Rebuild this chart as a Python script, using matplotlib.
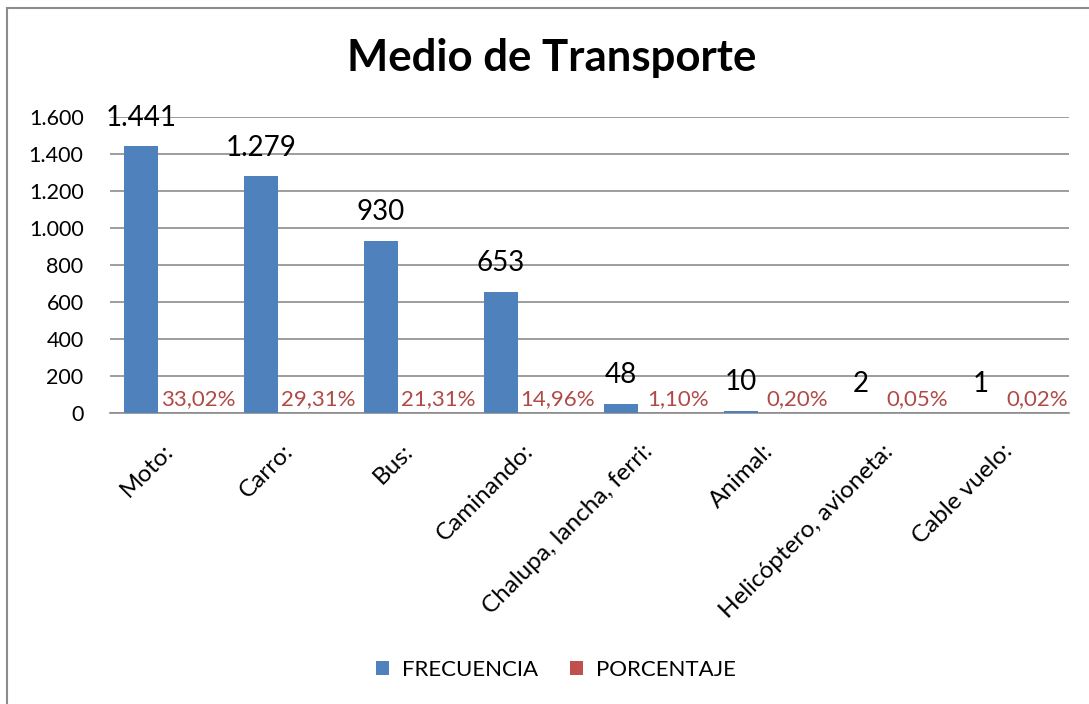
import numpy as np
import matplotlib.pyplot as plt
from matplotlib.patches import Rectangle

plt.rcParams['font.family'] = ['Lato', 'DejaVu Sans']

categorias = ['Moto:', 'Carro:', 'Bus:', 'Caminando:', 'Chalupa, lancha, ferri:',
              'Animal:', 'Helicóptero, avioneta:', 'Cable vuelo:']
frecuencia = [1441, 1279, 930, 653, 48, 10, 2, 1]
porcentaje = [33.02, 29.31, 21.31, 14.96, 1.10, 0.20, 0.05, 0.02]
yticks = [0, 200, 400, 600, 800, 1000, 1200, 1400, 1600]

def fmt_miles(v):
    return f'{v:,}'.replace(',', '.')

fig = plt.figure(figsize=(10.89, 7.04), dpi=100)
fig.patches.append(Rectangle((7/1089, -0.1), 1.2, 1 - 8/704 + 0.1, transform=fig.transFigure,
                             fill=False, edgecolor='#8c8c8c', linewidth=1.5))

ax = fig.add_axes([110/1089, 1 - 413/704, 959/1089, 296/704])
x = np.arange(len(categorias))
w = 0.283
ax.bar(x - 0.24, frecuencia, width=w, color='#4F81BD', label='FRECUENCIA', zorder=3)
ax.bar(x + 0.05, [p / 100 for p in porcentaje], width=w, color='#C0504D', label='PORCENTAJE', zorder=3)

for xi, f, p in zip(x, frecuencia, porcentaje):
    ax.text(xi - 0.24, f + 85, fmt_miles(f), ha='center', va='bottom', fontsize=20, color='black')
    ax.text(xi + 0.235, 22, f'{p:.2f}%'.replace('.', ','), ha='center', va='bottom',
            fontsize=16, color='#B04A47')

ax.set_xlim(-0.5, len(categorias) - 0.5)
ax.set_ylim(0, 1600)
ax.set_yticks(yticks)
ax.set_yticklabels([fmt_miles(t) for t in yticks], fontsize=15.5)
ax.yaxis.grid(True, color='#8c8c8c', linewidth=1.2, zorder=0)
ax.tick_params(axis='y', length=0, pad=19)
ax.tick_params(axis='x', length=0, pad=20)
ax.set_xticks(x - 0.06)
ax.set_xticklabels(categorias, rotation=45, ha='right', rotation_mode='anchor', fontsize=17.5)
for s in ['top', 'right', 'left']:
    ax.spines[s].set_visible(False)
ax.spines['bottom'].set_color('#8c8c8c')
ax.spines['bottom'].set_linewidth(1.2)

fig.text(552/1089, 1 - 58/704, 'Medio de Transporte', ha='center', va='center',
         fontsize=31.5, fontweight='bold')

h, l = ax.get_legend_handles_labels()
fig.legend(h, l, loc='center', bbox_to_anchor=(556/1089, 1 - 670/704), ncol=2, frameon=False,
           fontsize=16, handlelength=0.6, handleheight=0.6, handletextpad=0.6, columnspacing=1.4)

fig.savefig('out.png', dpi=100)
